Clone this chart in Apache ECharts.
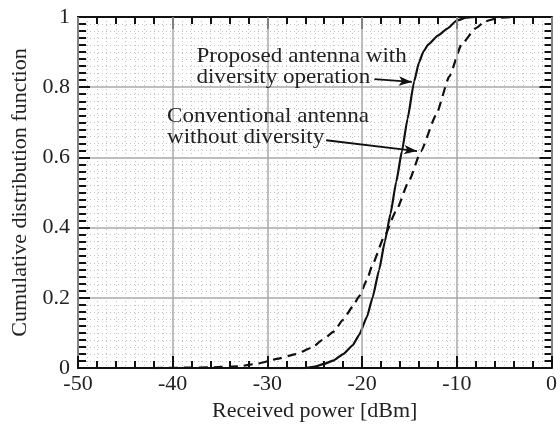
<!DOCTYPE html>
<html>
<head>
<meta charset="utf-8">
<script src="https://cdn.jsdelivr.net/npm/echarts@6/dist/echarts.min.js"></script>
<style>
html,body{margin:0;padding:0;background:#fff;}
#chart{width:560px;height:427px;}
</style>
</head>
<body>
<div id="chart"></div>
<script>
// Proposed antenna with diversity operation (solid)
const proposedX = [-30, -26, -25, -24, -23, -22, -21, -20.3, -19.5, -18.9, -18.2, -17.6, -17, -16.4, -15.8, -15.2, -14.5, -14, -13.5, -13, -12, -11, -10, -9, -8];
const proposedY = [0, 0, 0.004, 0.012, 0.022, 0.04, 0.065, 0.095, 0.145, 0.2, 0.28, 0.36, 0.44, 0.53, 0.617, 0.71, 0.817, 0.87, 0.903, 0.922, 0.947, 0.967, 0.99, 0.998, 1];
// Conventional antenna without diversity (dashed)
const conventionalX = [-42, -36, -33, -31, -29, -27, -25.3, -24.2, -23, -22, -21, -20.3, -19.5, -18.9, -17.7, -16.45, -15.05, -13.8, -12.2, -10.8, -9.5, -8, -7, -5.5, -4];
const conventionalY = [0, 0.002, 0.005, 0.013, 0.026, 0.04, 0.058, 0.08, 0.104, 0.138, 0.175, 0.205, 0.25, 0.295, 0.372, 0.445, 0.533, 0.617, 0.72, 0.83, 0.922, 0.968, 0.988, 0.998, 1];

const xTicks = [-50, -40, -30, -20, -10, 0];
const yTicks = [0, 0.2, 0.4, 0.6, 0.8, 1];

const xAxisName = 'Received power [dBm]';
const yAxisName = 'Cumulative distribution function';
const note1 = 'Proposed antenna with\ndiversity operation';
const note2 = 'Conventional antenna\nwithout diversity';
// annotation anchors in data coordinates
const note1At = [-37.5, 0.918];
const note2At = [-40.6, 0.747];
const arrow1 = [[-18.7, 0.823], [-14.75, 0.815]];
const arrow2 = [[-23.8, 0.649], [-14.2, 0.618]];

const FONT = 'Liberation Serif';
const pair = (xs, ys) => xs.map((x, i) => [x, ys[i]]);

const chart = echarts.init(document.getElementById('chart'), null, {renderer: 'canvas'});

const baseX = {
  type: 'value', min: xTicks[0], max: xTicks[xTicks.length - 1], interval: 10
};
const baseY = {
  type: 'value', min: yTicks[0], max: yTicks[yTicks.length - 1], interval: 0.2
};

const option = {
  backgroundColor: '#fff',
  animation: false,
  grid: {left: 78, right: 6, top: 17, bottom: 54, containLabel: false},
  xAxis: [
    Object.assign({}, baseX, {
      position: 'bottom',
      name: xAxisName, nameLocation: 'middle', nameGap: 27,
      nameTextStyle: {fontFamily: FONT, fontSize: 22, color: '#222'},
      axisLine: {show: true, onZero: false, lineStyle: {color: '#111', width: 2}},
      axisTick: {show: true, inside: true, length: 12, lineStyle: {color: '#111', width: 2}},
      minorTick: {show: true, splitNumber: 5, length: 7, lineStyle: {color: '#111', width: 2}},
      axisLabel: {fontFamily: FONT, fontSize: 22, color: '#222', margin: 5},
      splitLine: {show: true, lineStyle: {color: '#a8a8a8', width: 1.5}},
      z: 5
    }),
    Object.assign({}, baseX, {
      position: 'top',
      axisLine: {show: true, onZero: false, lineStyle: {color: '#111', width: 2}},
      axisTick: {show: true, inside: true, length: 12, lineStyle: {color: '#111', width: 2}},
      minorTick: {show: true, splitNumber: 5, length: 7, lineStyle: {color: '#111', width: 2}},
      axisLabel: {show: false},
      splitLine: {show: false}
    }),
    Object.assign({}, baseX, {
      position: 'bottom',
      axisLine: {show: false}, axisTick: {show: false}, axisLabel: {show: false},
      splitLine: {show: false},
      minorTick: {show: false, splitNumber: 10},
      minorSplitLine: {show: true, lineStyle: {color: '#c0c0c0', width: 1, type: [1, 3]}}
    })
  ],
  yAxis: [
    Object.assign({}, baseY, {
      position: 'left',
      name: yAxisName, nameLocation: 'middle', nameGap: 47, nameRotate: 90,
      nameTextStyle: {fontFamily: FONT, fontSize: 22, color: '#222'},
      axisLine: {show: true, onZero: false, lineStyle: {color: '#111', width: 2}},
      axisTick: {show: true, inside: true, length: 12, lineStyle: {color: '#111', width: 2}},
      minorTick: {show: true, splitNumber: 10, length: 8, lineStyle: {color: '#111', width: 2}},
      axisLabel: {fontFamily: FONT, fontSize: 22, color: '#222', margin: 8},
      splitLine: {show: true, lineStyle: {color: '#a8a8a8', width: 1.5}},
      minorSplitLine: {show: true, lineStyle: {color: '#c0c0c0', width: 1, type: [1, 3]}}
    }),
    Object.assign({}, baseY, {
      position: 'right',
      axisLine: {show: true, onZero: false, lineStyle: {color: '#111', width: 2}},
      axisTick: {show: true, inside: true, length: 12, lineStyle: {color: '#111', width: 2}},
      minorTick: {show: true, splitNumber: 10, length: 7, lineStyle: {color: '#111', width: 2}},
      axisLabel: {show: false},
      splitLine: {show: false}
    })
  ],
  series: [
    {
      name: 'Conventional antenna without diversity',
      type: 'line', xAxisIndex: 0, yAxisIndex: 0,
      data: pair(conventionalX, conventionalY),
      smooth: 0.15, smoothMonotone: 'x', showSymbol: false, symbol: 'none',
      lineStyle: {color: '#111', width: 2.2, type: [9, 6]},
      z: 3
    },
    {
      name: 'Proposed antenna with diversity operation',
      type: 'line', xAxisIndex: 0, yAxisIndex: 0,
      data: pair(proposedX, proposedY),
      smooth: 0.15, smoothMonotone: 'x', showSymbol: false, symbol: 'none',
      lineStyle: {color: '#111', width: 2.2, type: 'solid'},
      z: 4,
      markLine: {
        silent: true, animation: false,
        symbol: ['none', 'arrow'], symbolSize: [7, 13],
        label: {show: false},
        lineStyle: {color: '#111', width: 1.8, type: 'solid'},
        data: [
          [{coord: arrow1[0]}, {coord: arrow1[1]}],
          [{coord: arrow2[0]}, {coord: arrow2[1]}]
        ]
      }
    }
  ]
};
chart.setOption(option);

const p1 = chart.convertToPixel({gridIndex: 0}, note1At);
const p2 = chart.convertToPixel({gridIndex: 0}, note2At);
chart.setOption({
  graphic: [
    {type: 'text', x: p1[0], y: p1[1], z: 10, scaleX: 1.1,
     style: {text: note1, fontFamily: FONT, fontSize: 21, fill: '#222', lineHeight: 21, align: 'left', verticalAlign: 'top'}},
    {type: 'text', x: p2[0], y: p2[1], z: 10, scaleX: 1.1,
     style: {text: note2, fontFamily: FONT, fontSize: 21, fill: '#222', lineHeight: 21, align: 'left', verticalAlign: 'top'}}
  ]
});
</script>
</body>
</html>
